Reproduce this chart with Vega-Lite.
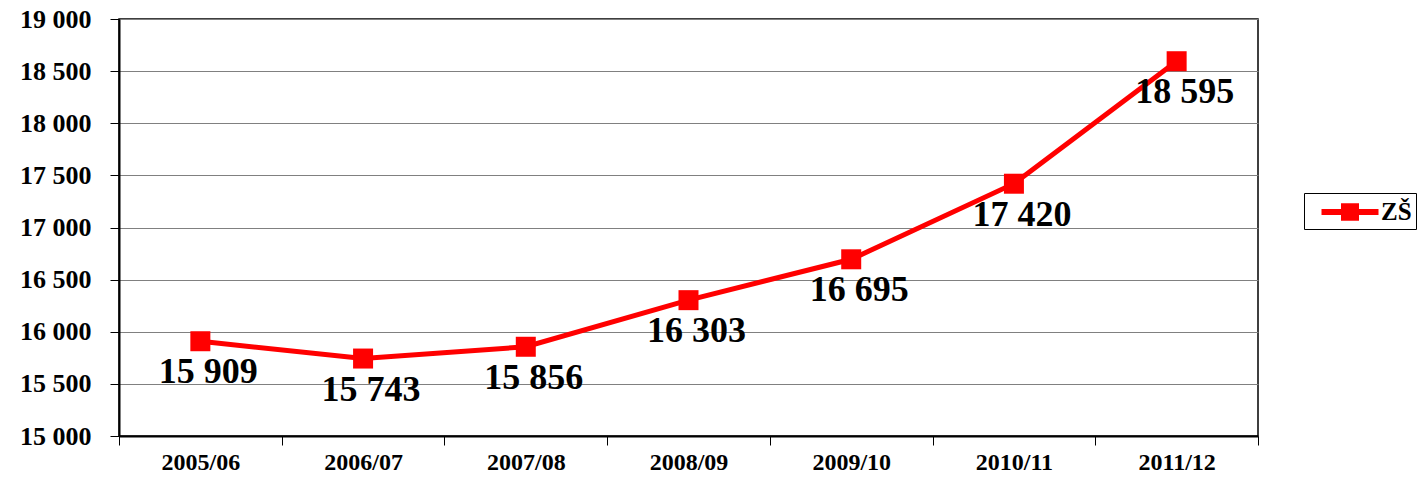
{
  "$schema": "https://vega.github.io/schema/vega-lite/v6.json",
  "autosize": "none",
  "padding": {"left": 119, "top": 19, "right": 169, "bottom": 41},
  "width": 1139,
  "height": 417,
  "background": "white",
  "data": {"values": [
    {"year": "2005/06", "value": 15909, "series": "ZŠ"},
    {"year": "2006/07", "value": 15743, "series": "ZŠ"},
    {"year": "2007/08", "value": 15856, "series": "ZŠ"},
    {"year": "2008/09", "value": 16303, "series": "ZŠ"},
    {"year": "2009/10", "value": 16695, "series": "ZŠ"},
    {"year": "2010/11", "value": 17420, "series": "ZŠ"},
    {"year": "2011/12", "value": 18595, "series": "ZŠ"}
  ]},
  "config": {
    "view": {"stroke": "black", "strokeWidth": 1.5},
    "font": "Liberation Serif",
    "locale": {"number": {"decimal": ",", "thousands": " ", "grouping": [3], "currency": ["", " Kč"]}}
  },
  "encoding": {
    "x": {
      "field": "year", "type": "nominal", "sort": null,
      "scale": {"paddingInner": 0, "paddingOuter": 0},
      "axis": {
        "title": null, "labelAngle": 0, "tickBand": "extent",
        "labelFont": "Liberation Serif", "labelFontSize": 24, "labelFontWeight": "bold", "labelColor": "black",
        "domainColor": "black", "domainWidth": 2, "tickColor": "black", "tickSize": 9, "tickWidth": 1,
        "labelPadding": 5, "grid": false
      }
    },
    "y": {
      "field": "value", "type": "quantitative",
      "scale": {"domain": [15000, 19000], "nice": false, "zero": false},
      "axis": {
        "title": null, "values": [15000, 15500, 16000, 16500, 17000, 17500, 18000, 18500, 19000],
        "format": ",d",
        "labelFont": "Liberation Serif", "labelFontSize": 26, "labelFontWeight": "bold", "labelColor": "black",
        "domainColor": "black", "domainWidth": 2, "tickColor": "black", "tickSize": 9, "tickWidth": 1,
        "labelPadding": 19, "grid": true, "gridColor": "#808080", "gridWidth": 1
      }
    }
  },
  "layer": [
    {
      "mark": {"type": "line", "color": "#FF0000", "strokeWidth": 5},
      "encoding": {
        "color": {
          "field": "series", "type": "nominal",
          "scale": {"range": ["#FF0000"]},
          "legend": {
            "title": null, "orient": "none", "legendX": 1185, "legendY": 174,
            "symbolType": "M-1.9,-0.2H1.9V0.2H-1.9Z M-0.6,-0.58H0.6V0.58H-0.6Z",
            "symbolSize": 900, "symbolStrokeWidth": 0, "symbolFillColor": "#FF0000",
            "labelFont": "Liberation Serif", "labelFontSize": 25, "labelFontWeight": "bold", "labelColor": "black",
            "strokeColor": "black", "padding": 4, "labelOffset": 16,
            "symbolOffset": 27
          }
        }
      }
    },
    {
      "mark": {"type": "point", "shape": "square", "filled": true, "size": 400, "color": "#FF0000", "opacity": 1}
    },
    {
      "mark": {"type": "text", "dy": 31, "dx": 8, "fontSize": 36, "fontWeight": "bold", "font": "Liberation Serif", "color": "black", "baseline": "middle"},
      "encoding": {
        "text": {"field": "value", "type": "quantitative", "format": ",d"}
      }
    }
  ]
}
